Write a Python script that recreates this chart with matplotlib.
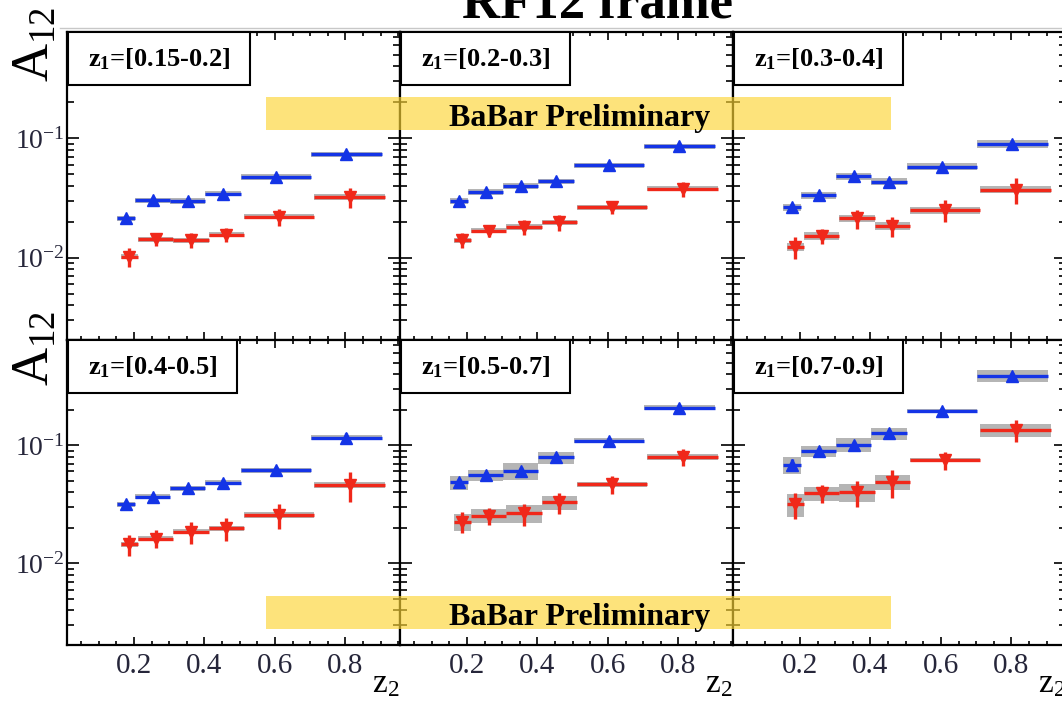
import numpy as np
import matplotlib
matplotlib.use("Agg")
import matplotlib.pyplot as plt
from matplotlib.patches import Rectangle
from matplotlib.lines import Line2D
from matplotlib.ticker import LogLocator, MultipleLocator, NullFormatter, FuncFormatter

plt.rcParams['font.family'] = ['Liberation Serif', 'DejaVu Serif']
plt.rcParams['mathtext.fontset'] = 'custom'
plt.rcParams['mathtext.rm'] = 'Liberation Serif'
plt.rcParams['mathtext.it'] = 'Liberation Serif:italic'
plt.rcParams['mathtext.bf'] = 'Liberation Serif:bold'

# ---- data: A12 vs z2 in six z1 bins ----
z1_labels = ["0.15-0.2", "0.2-0.3", "0.3-0.4", "0.4-0.5", "0.5-0.7", "0.7-0.9"]
z2_center = [0.175, 0.25, 0.35, 0.45, 0.60, 0.80]
z2_halfwidth = [0.025, 0.05, 0.05, 0.05, 0.10, 0.10]

# UL ratio (blue, up triangles)
ul_value = [
    [0.0214, 0.0303, 0.0298, 0.0343, 0.0473, 0.0731],
    [0.0298, 0.0355, 0.0398, 0.0438, 0.0596, 0.0858],
    [0.0264, 0.0333, 0.0480, 0.0432, 0.0577, 0.0897],
    [0.0316, 0.0367, 0.0432, 0.0483, 0.0614, 0.1160],
    [0.0484, 0.0558, 0.0608, 0.0788, 0.1090, 0.2080],
    [0.0686, 0.0895, 0.1010, 0.1260, 0.1940, 0.3860],
]
ul_stat = [
    [0.0015, 0.0015, 0.0015, 0.0020, 0.0030, 0.0050],
    [0.0015, 0.0015, 0.0018, 0.0020, 0.0025, 0.0040],
    [0.0018, 0.0020, 0.0030, 0.0030, 0.0035, 0.0050],
    [0.0020, 0.0022, 0.0025, 0.0030, 0.0040, 0.0100],
    [0.0030, 0.0035, 0.0040, 0.0050, 0.0070, 0.0130],
    [0.0080, 0.0060, 0.0070, 0.0090, 0.0120, 0.0240],
]
ul_syst = [
    [0.0010, 0.0015, 0.0015, 0.0017, 0.0024, 0.0037],
    [0.0015, 0.0018, 0.0020, 0.0022, 0.0030, 0.0043],
    [0.0018, 0.0023, 0.0034, 0.0030, 0.0040, 0.0063],
    [0.0016, 0.0018, 0.0022, 0.0024, 0.0031, 0.0058],
    [0.0063, 0.0056, 0.0103, 0.0095, 0.0055, 0.0100],
    [0.0110, 0.0098, 0.0140, 0.0150, 0.0080, 0.0460],
]

# UC ratio (red, down triangles)
uc_value = [
    [0.0102, 0.0142, 0.0140, 0.0156, 0.0220, 0.0322],
    [0.0140, 0.0168, 0.0181, 0.0197, 0.0263, 0.0379],
    [0.0123, 0.0152, 0.0213, 0.0184, 0.0250, 0.0371],
    [0.0145, 0.0162, 0.0185, 0.0198, 0.0257, 0.0461],
    [0.0225, 0.0253, 0.0265, 0.0328, 0.0466, 0.0797],
    [0.0316, 0.0392, 0.0402, 0.0489, 0.0751, 0.1350],
]
uc_stat = [
    [0.0018, 0.0017, 0.0020, 0.0020, 0.0035, 0.0060],
    [0.0020, 0.0020, 0.0025, 0.0030, 0.0030, 0.0055],
    [0.0025, 0.0023, 0.0038, 0.0035, 0.0052, 0.0090],
    [0.0030, 0.0028, 0.0039, 0.0042, 0.0060, 0.0130],
    [0.0045, 0.0040, 0.0056, 0.0065, 0.0080, 0.0135],
    [0.0077, 0.0068, 0.0100, 0.0130, 0.0130, 0.0280],
]
uc_syst = [
    [0.0005, 0.0007, 0.0007, 0.0008, 0.0011, 0.0016],
    [0.0007, 0.0008, 0.0009, 0.0010, 0.0013, 0.0019],
    [0.0009, 0.0011, 0.0015, 0.0013, 0.0018, 0.0026],
    [0.0007, 0.0008, 0.0009, 0.0010, 0.0013, 0.0023],
    [0.0038, 0.0035, 0.0045, 0.0046, 0.0023, 0.0040],
    [0.0070, 0.0055, 0.0068, 0.0073, 0.0030, 0.0175],
]

# ---- layout (pixels) ----
W, H = 1062, 703
fig = plt.figure(figsize=(W / 100, H / 100), dpi=100)


def fx(px):
    return px / W


def fy(py):
    return 1 - py / H


col_left = [67, 400, 733]
col_width = 333
row_top = [32, 340]
row_bottom = [340, 645]

BLUE = '#1434e6'
RED = '#f0281a'
GRAY = '#9c9c9c'
TXT = '#26263a'
ylim = (10 ** -2.69, 10 ** -0.11)

decade_fmt = FuncFormatter(lambda v, p: r'$\mathrm{10^{%d}}$' % int(round(np.log10(v))))

axes = []
for i in range(6):
    r, c = divmod(i, 3)
    l = col_left[c]
    t, b = row_top[r], row_bottom[r]
    ax = fig.add_axes([fx(l), fy(b), col_width / W, (b - t) / H])
    ax.set_yscale('log')
    ax.set_xlim(0.01, 0.955)
    ax.set_ylim(*ylim)

    xc = np.array(z2_center)
    hw = np.array(z2_halfwidth)
    for vals, stat, syst, dx, col, mk in (
        (ul_value[i], ul_stat[i], ul_syst[i], 0.003, BLUE, '^'),
        (uc_value[i], uc_stat[i], uc_syst[i], 0.012, RED, 'v'),
    ):
        v = np.array(vals)
        s = np.array(syst)
        ax.bar(xc + dx, 2 * s, bottom=v - s, width=2 * hw, color=GRAY,
               alpha=0.75, linewidth=0, zorder=2)
        ax.errorbar(xc + dx, v, yerr=stat, xerr=hw, fmt=mk, color=col,
                    ms=8.5, elinewidth=2.4, capsize=0, zorder=3)

    ax.xaxis.set_major_locator(MultipleLocator(0.2))
    ax.xaxis.set_minor_locator(MultipleLocator(0.05))
    ax.yaxis.set_major_locator(LogLocator(base=10))
    ax.yaxis.set_minor_locator(LogLocator(base=10, subs=np.arange(2, 10)))
    ax.yaxis.set_minor_formatter(NullFormatter())
    ax.yaxis.set_major_formatter(decade_fmt)
    ax.xaxis.set_major_formatter(FuncFormatter(lambda v, p: '%.1f' % v))

    ax.tick_params(axis='both', which='both', direction='in', top=True, right=True,
                   colors='black', labelcolor=TXT, width=1.2)
    ax.tick_params(axis='y', which='major', length=8.5, labelsize=20, pad=2)
    ax.tick_params(axis='y', which='minor', length=5)
    ax.tick_params(axis='x', which='major', length=6, labelsize=21, pad=6)
    ax.tick_params(axis='x', which='minor', length=3)
    ax.tick_params(labelleft=(c == 0), labelbottom=(r == 1))
    for sp in ax.spines.values():
        sp.set_linewidth(1.6)
    ax.set_facecolor('white')
    axes.append(ax)

# z1 bin labels in framed boxes
label_texts = []
for i, ax in enumerate(axes):
    r, c = divmod(i, 3)
    l, t = col_left[c] + 1, row_top[r]
    txt = fig.text(fx(l + 20), fy(t + 27), r'$\mathbf{z_1}$=[' + z1_labels[i] + ']',
                   ha='left', va='center', fontsize=19, fontweight='bold',
                   color='black', zorder=12)
    label_texts.append((txt, l, t))

fig.canvas.draw()
renderer = fig.canvas.get_renderer()
for txt, l, t in label_texts:
    bb = txt.get_window_extent(renderer)
    w = bb.width + 40
    fig.add_artist(Rectangle((fx(l), fy(t + 53)), w / W, 53 / H,
                             transform=fig.transFigure, facecolor='white',
                             edgecolor='black', linewidth=1.5, zorder=11))

# preliminary bands
for top, base in ((97, 126), (596, 625)):
    fig.add_artist(Rectangle((fx(266), fy(top + 33)), (891 - 266) / W, 33 / H,
                             transform=fig.transFigure, facecolor='#fcd535',
                             alpha=0.65, linewidth=0, zorder=13))
    fig.text(fx(580), fy(base), 'BaBar Preliminary', ha='center', va='baseline',
             fontsize=23, fontweight='bold', color='black', zorder=14)

# title (runs off the top edge)
fig.text(fx(598), fy(18), 'RF12 frame', ha='center', va='baseline',
         fontsize=38, fontweight='bold', color='black')
fig.add_artist(Line2D([fx(60), 1.0], [fy(28), fy(28)], transform=fig.transFigure,
                      color='#c8c8c8', linewidth=1))

# axis titles
for cy in (44, 348):
    fig.text(fx(36), fy(cy), r'$\mathrm{A_{12}}$', rotation=90, ha='center',
             va='center', fontsize=38, color='black')
for c in range(3):
    fig.text(fx(col_left[c] + col_width - 1), fy(692), r'$\mathrm{z_2}$',
             ha='right', va='baseline', fontsize=24, color='black')

fig.savefig('out.png', dpi=100)
